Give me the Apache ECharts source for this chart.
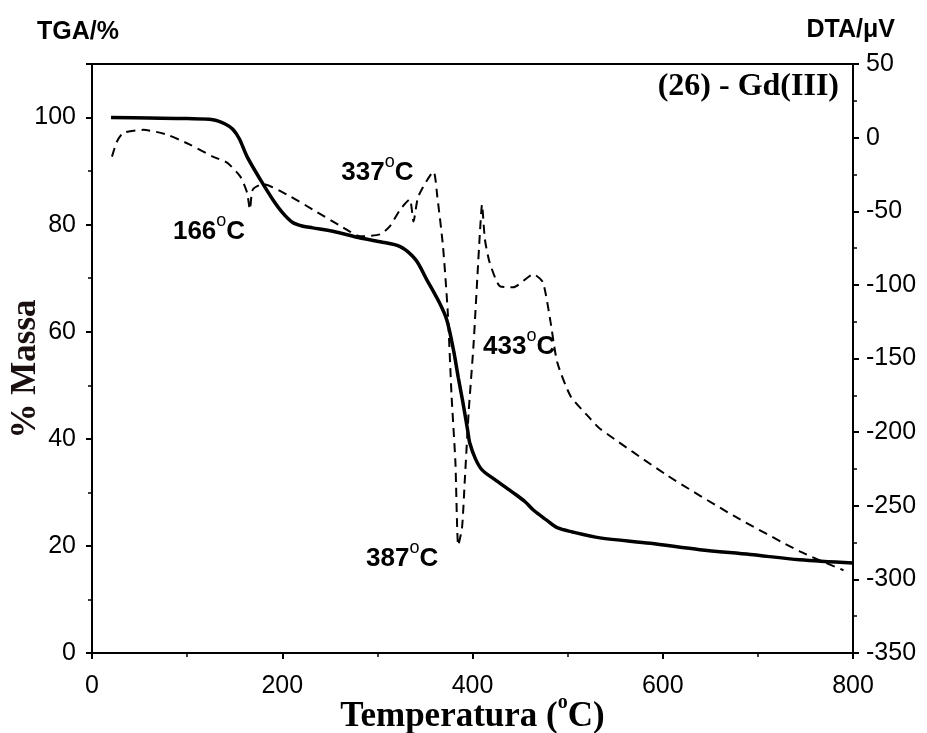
<!DOCTYPE html>
<html>
<head>
<meta charset="utf-8">
<script src="https://cdn.jsdelivr.net/npm/echarts@6/dist/echarts.min.js"></script>
<style>
  html, body { margin: 0; padding: 0; background: #fff; }
  #chart { width: 927px; height: 733px; }
</style>
</head>
<body>
<div id="chart"></div>
<script>
"use strict";
// TGA curve: [temperature °C, % mass]
var tgaData = [
  [20, 100], [60, 99.9], [100, 99.8], [127, 99.6], [140, 98.8], [148, 97.8], [155, 96],
  [163, 92.7], [177, 88.4], [190, 84.7], [200, 82.3], [211, 80.4], [222, 79.7], [232, 79.4],
  [260, 78.5], [280, 77.6], [303, 76.8], [324, 75.9], [340, 73.5], [352, 69.7], [365, 65.5],
  [373, 62.2], [380, 56.6], [385, 51.5], [390, 46.7], [395, 41.5], [397, 39.3], [403, 36.3],
  [410, 34.2], [425, 32.2], [443, 29.9], [455, 28.3], [464, 26.7], [478, 24.8], [489, 23.4],
  [505, 22.6], [534, 21.5], [587, 20.5], [639, 19.3], [692, 18.4], [744, 17.4], [800, 16.8]
];
// DTA curve: [temperature °C, µV]
var dtaData = [
  [21, -12.9], [26, -3], [33, 3.3], [54, 5.3], [79, 2], [103, -4.8], [127, -12.9], [142, -17],
  [156, -26.5], [163, -37.3], [166, -48.8], [169, -35.3], [180, -31.5], [205, -38.7],
  [232, -48.8], [264, -61], [282, -67], [303, -65.7], [313, -60.3], [324, -48.8], [334, -42],
  [338, -56.9], [343, -40], [359, -23.1], [363, -40], [369, -73.9], [374, -118.5], [378, -175.4],
  [382, -220], [385, -277], [389, -265], [392, -231.5], [396, -186], [401, -141.5], [405, -96],
  [408, -62.3], [410, -45.4], [413, -69], [418, -84.7], [429, -101], [443, -101.6], [464, -92.8],
  [474, -98.2], [482, -125], [489, -152.4], [503, -175.4], [524, -191], [534, -197.7],
  [605, -229.5], [674, -256.6], [744, -281], [790, -293.8]
];
// peak annotations: label text, x position (°C), y position (µV)
var peakLabels = ['166', '337', '433', '387'];
var peakX = [123, 300, 449, 326];
var peakY = [-64, -24, -142, -286];

var myChart = echarts.init(document.getElementById('chart'));

var tickFont = { fontFamily: 'Liberation Sans, Arial', fontSize: 25, color: '#000' };
var supRich = {
  n: { fontFamily: 'Liberation Sans, Arial', fontWeight: 'bold', fontSize: 26, color: '#000' },
  sup: { fontFamily: 'Liberation Sans, Arial', fontSize: 18, color: '#000', padding: [0, 0, 22, 0] }
};

var option = {
  animation: false,
  grid: {
    left: 92, right: 74, top: 64, bottom: 80, outerBoundsMode: 'none', containLabel: false,
    show: true, borderColor: '#000', borderWidth: 2, backgroundColor: 'transparent'
  },
  xAxis: {
    type: 'value', min: 0, max: 800, interval: 200,
    name: 'Temperatura ({s|o}C)', nameLocation: 'middle', nameGap: 40, nameMoveOverlap: false,
    nameTextStyle: {
      fontFamily: 'Liberation Serif, Times New Roman', fontWeight: 'bold', fontSize: 35, color: '#000',
      rich: { s: { fontFamily: 'Liberation Serif', fontSize: 20, color: '#000', padding: [0, 0, 28, 0] } }
    },
    axisLine: { lineStyle: { color: '#000', width: 2 } },
    axisTick: { length: 6, lineStyle: { color: '#000', width: 2 } },
    minorTick: { show: true, splitNumber: 2, length: 4, lineStyle: { color: '#000', width: 1.5 } },
    splitLine: { show: false },
    axisLabel: Object.assign({ margin: 21 }, tickFont)
  },
  yAxis: [
    {
      type: 'value', min: 0, max: 110, interval: 20,
      axisLine: { show: true, lineStyle: { color: '#000', width: 2 } },
      axisTick: { show: true, length: 6, lineStyle: { color: '#000', width: 2 } },
      minorTick: { show: true, splitNumber: 2, length: 4, lineStyle: { color: '#000', width: 1.5 } },
      splitLine: { show: false },
      axisLabel: Object.assign({ margin: 16, showMaxLabel: false }, tickFont)
    },
    {
      type: 'value', min: -350, max: 50, interval: 50, position: 'right',
      axisLine: { show: true, lineStyle: { color: '#000', width: 2 } },
      axisTick: { show: true, length: 6, lineStyle: { color: '#000', width: 2 } },
      minorTick: { show: true, splitNumber: 2, length: 4, lineStyle: { color: '#000', width: 1.5 } },
      splitLine: { show: false },
      axisLabel: Object.assign({ margin: 13 }, tickFont)
    }
  ],
  graphic: [
    { type: 'text', left: 37, top: 20, style: { text: 'TGA/%', font: 'bold 25px "Liberation Sans", Arial', fill: '#000' } },
    { type: 'text', right: 32, top: 18, style: { text: 'DTA/μV', font: 'bold 25px "Liberation Sans", Arial', fill: '#000' } },
    { type: 'text', right: 88, top: 71, style: { text: '(26) - Gd(III)', font: 'bold 32px "Liberation Serif", "Times New Roman"', fill: '#000' } },
    {
      type: 'text', x: 26, y: 369, rotation: Math.PI / 2,
      style: { text: '% Massa', font: 'bold 35px "Liberation Serif", "Times New Roman"', fill: '#1a1010', align: 'center', verticalAlign: 'middle' }
    }
  ],
  series: [
    {
      type: 'line', name: 'TGA', yAxisIndex: 0, data: tgaData, showSymbol: false, smooth: 0.3,
      lineStyle: { color: '#000', width: 3.5 }
    },
    {
      type: 'line', name: 'DTA', yAxisIndex: 1, data: dtaData, showSymbol: false, smooth: 0.2,
      lineStyle: { color: '#000', width: 2, type: [9, 6] },
      markPoint: {
        symbol: 'circle', symbolSize: 0,
        label: {
          show: true, position: 'inside',
          formatter: function (p) { return '{n|' + p.name + '}{sup|o}{n|C}'; },
          rich: supRich
        },
        data: peakLabels.map(function (t, i) { return { name: t, coord: [peakX[i], peakY[i]] }; })
      }
    }
  ]
};
myChart.setOption(option);

window.onresize = function () {
  myChart.resize();
};
</script>
</body>
</html>
